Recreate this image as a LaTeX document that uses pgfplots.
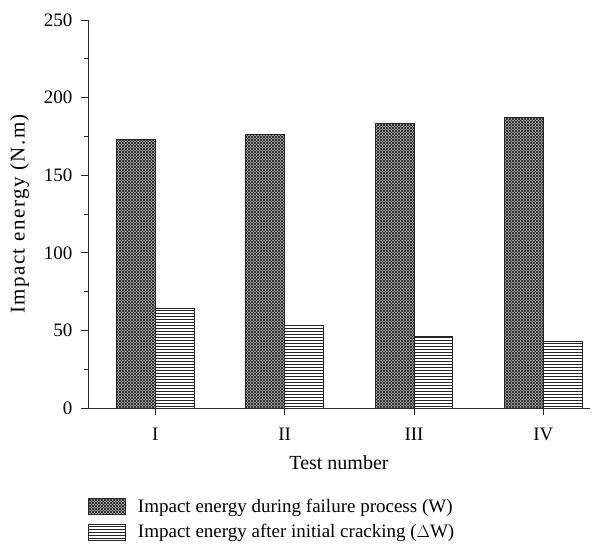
\documentclass[border=0pt]{standalone}
\usepackage{pgfplots}
\pgfplotsset{compat=1.18}
\usepackage{fontspec}
\setmainfont{Liberation Serif}
\usetikzlibrary{patterns}
\pgfdeclarepatternformonly{mycross}{\pgfqpoint{-1pt}{-1pt}}{\pgfqpoint{4pt}{4pt}}{\pgfqpoint{3pt}{3pt}}{%
  \pgfsetlinewidth{0.9pt}%
  \pgfpathmoveto{\pgfqpoint{-0.1pt}{-0.1pt}}\pgfpathlineto{\pgfqpoint{3.1pt}{3.1pt}}%
  \pgfpathmoveto{\pgfqpoint{-0.1pt}{3.1pt}}\pgfpathlineto{\pgfqpoint{3.1pt}{-0.1pt}}%
  \pgfusepath{stroke}}
\begin{document}
\begin{tikzpicture}
\begin{axis}[name=ax, scale only axis, width=502pt, height=388pt,
  xmin=-0.52, xmax=3.36, ymin=0, ymax=250,
  axis x line*=bottom, axis y line*=left,
  axis line style={line width=0.9pt, -, black!85},
  ybar=0pt, bar width=0.3,
  xtick={0,1,2,3}, xticklabels={I,II,III,IV},
  ytick={0,50,...,250}, minor ytick={25,75,...,225},
  tick align=outside, major tick length=7pt, minor tick length=4pt,
  tick style={black!85, line width=0.8pt},
  xlabel={Test number}, ylabel={Impact energy (N.m)},
  xlabel style={font=\fontsize{20}{24}\selectfont, yshift=-8pt},
  ylabel style={font=\fontsize{21}{24}\selectfont\addfontfeature{LetterSpace=7}, yshift=8pt},
  tick label style={font=\fontsize{19}{23}\selectfont},
  xticklabel style={yshift=-10pt},
  yticklabel style={xshift=-5pt},
  /pgf/number format/assume math mode=true,
  legend style={at={(-0.006,-0.223)}, anchor=north west, draw=none, fill=none,
    font=\fontsize{19}{23}\selectfont, row sep=7pt},
  legend cell align=left,
  legend image code/.code={\draw[#1] (0pt,-8pt) rectangle (37pt,8pt); \path (47pt,0pt);},
]
\addplot[draw=black!85, line width=0.8pt, pattern=mycross, pattern color=black!80]
  coordinates {(0,172.8) (1,176.2) (2,183.4) (3,187.0)};
\addlegendentry{Impact energy during failure process (W)}
\addplot[draw=black!85, line width=0.8pt, pattern=horizontal lines, pattern color=black!85]
  coordinates {(0,64.0) (1,53.5) (2,46.3) (3,42.8)};
\addlegendentry{Impact energy after initial cracking ($\Delta$W)}
\end{axis}
\pgfresetboundingbox
\useasboundingbox ([shift={(-88pt,-137pt)}]ax.south west) rectangle ([shift={(16pt,20pt)}]ax.north east);
\end{tikzpicture}
\end{document}
